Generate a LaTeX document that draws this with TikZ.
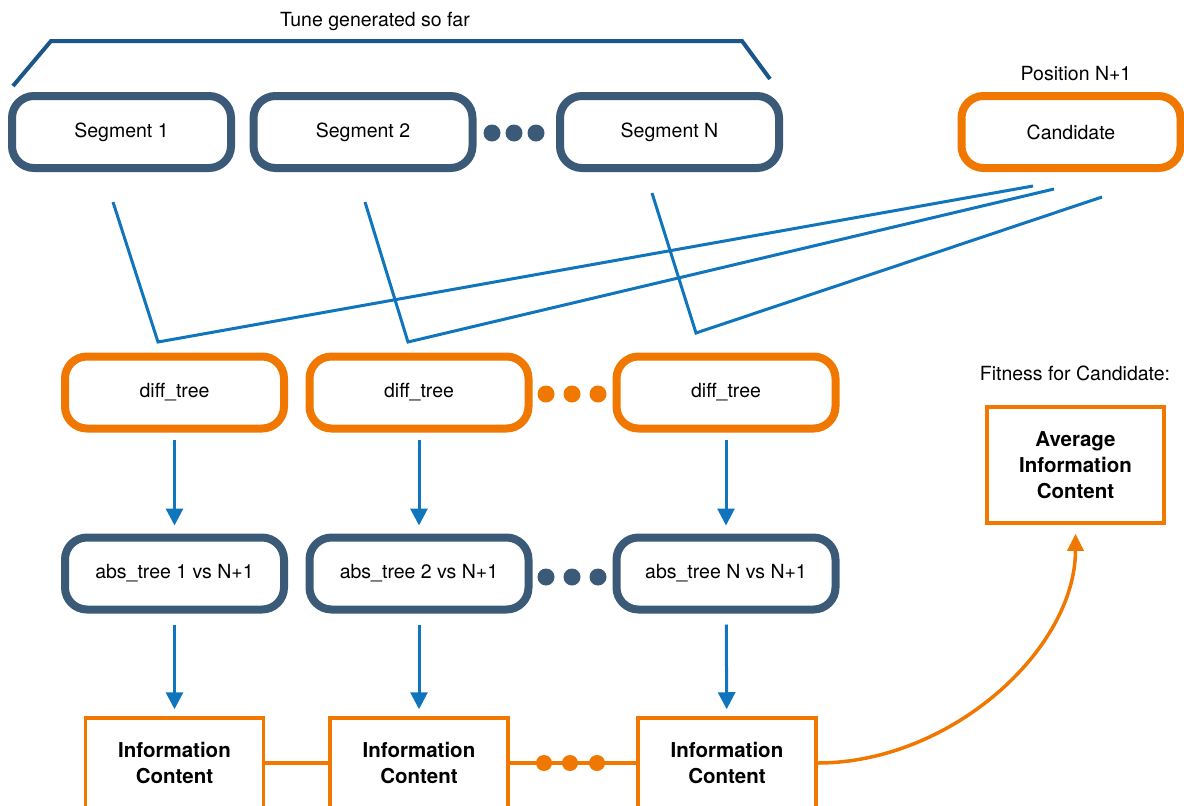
\documentclass[tikz,border=0pt]{standalone}
\usepackage{fontspec}
\setmainfont{TeX Gyre Heros}
\usetikzlibrary{arrows.meta}
\definecolor{slate}{RGB}{58,90,120}
\definecolor{orng}{RGB}{240,120,0}
\definecolor{lblue}{RGB}{16,117,188}
\definecolor{dblue}{RGB}{26,86,138}
\begin{document}
\begin{tikzpicture}[x=1pt,y=1pt,yscale=-1,
	seg/.style={draw=slate, line width=8pt, rounded corners=22pt, minimum width=219pt, minimum height=72pt, inner sep=0pt, font=\fontsize{19.5}{23}\selectfont},
	cand/.style={seg, draw=orng},
	info/.style={draw=orng, line width=3.5pt, fill=white, minimum width=178pt, minimum height=90pt, inner sep=0pt, align=center, font=\fontsize{20.5}{26}\selectfont\bfseries},
	lbl/.style={inner sep=0pt, font=\fontsize{19.5}{23}\selectfont},
	flow/.style={draw=lblue, line width=3pt, -{Triangle[width=17pt,length=17pt]}},
	fan/.style={draw=lblue, line width=3pt, line join=miter}]
	\useasboundingbox (0,0) rectangle (1184,806);
	\clip (0,0) rectangle (1184,806);
	
	% Text Node
	\node[lbl] (tune) at (375,21) {Tune generated so far};
	% Text Node
	\node[lbl] (pos) at (1076,74) {Position N+1};
	% Text Node
	\node[lbl] (fit) at (1075,373) {Fitness for Candidate:};
	
	%Shape: top row
	\node[seg] (s1) at (121.5,132) {Segment 1};
	\node[seg] (s2) at (363,132) {Segment 2};
	\node[seg] (sN) at (669.5,132) {Segment N};
	\node[cand] (cand) at (1071,132) {Candidate};
	\foreach \x in {492,514,536} \fill[slate] (\x,133) circle [radius=8.5];
	
	%Shape: bracket
	\draw[dblue, line width=4pt] (13,86) -- (51,41) -- (742,41) -- (770,79);
	
	%Shape: diff_tree row
	\node[cand] (d1) at (174.5,392.5) {diff\_tree};
	\node[cand] (d2) at (419,392.5) {diff\_tree};
	\node[cand] (dN) at (726,392.5) {diff\_tree};
	\foreach \x in {546,572,598} \fill[orng] (\x,394) circle [radius=8.5];
	
	%Shape: abs_tree row
	\node[seg] (a1) at (174.5,573.5) {abs\_tree 1 vs N+1};
	\node[seg] (a2) at (419,573.5) {abs\_tree 2 vs N+1};
	\node[seg] (aN) at (726,573.5) {abs\_tree N vs N+1};
	\foreach \x in {546,572,598} \fill[slate] (\x,577) circle [radius=8.5];
	
	%Shape: information boxes
	\node[info] (i1) at (174.5,763) {Information\\Content};
	\node[info] (i2) at (419,763) {Information\\Content};
	\node[info] (iN) at (727,763) {Information\\Content};
	\node[info, minimum width=177pt, minimum height=116pt] (avg) at (1075.5,465) {Average\\Information\\Content};
	
	%Lines: segments and candidate into diff_tree
	\coordinate (f1a) at (113,202);
	\coordinate (f1b) at (158,342);
	\coordinate (f1c) at (1033,186);
	\coordinate (f2a) at (365,202);
	\coordinate (f2b) at (408,342);
	\coordinate (f2c) at (1054,189);
	\coordinate (f3a) at (652,193);
	\coordinate (f3b) at (696,333);
	\coordinate (f3c) at (1102,197);
	\draw[fan] (f1a) -- (f1b) -- (f1c);
	\draw[fan] (f2a) -- (f2b) -- (f2c);
	\draw[fan] (f3a) -- (f3b) -- (f3c);
	
	%Arrows
	\draw[flow, shorten <=7pt, shorten >=8pt] (d1) -- (a1);
	\draw[flow, shorten <=7pt, shorten >=8pt] (d2) -- (a2);
	\draw[flow, shorten <=7pt, shorten >=8pt] (dN) -- (aN);
	\draw[flow, shorten <=11pt, shorten >=7pt] (a1) -- (i1);
	\draw[flow, shorten <=11pt, shorten >=7pt] (a2) -- (i2);
	\draw[flow, shorten <=11pt, shorten >=7pt] (aN) -- (iN);
	
	%Lines: information boxes
	\draw[orng, line width=3.5pt] (i1.east) -- (i2.west);
	\draw[orng, line width=3.5pt] (i2.east) -- (iN.west);
	\foreach \x in {544,570,597} \fill[orng] (\x,763) circle [radius=8];
	
	%Curve Lines
	\draw[orng, line width=3.5pt, -{Triangle[width=16pt,length=17pt]}, shorten >=9pt] (iN.east) .. controls (950,763) and (1075.5,650) .. (avg.south);
\end{tikzpicture}
\end{document}
